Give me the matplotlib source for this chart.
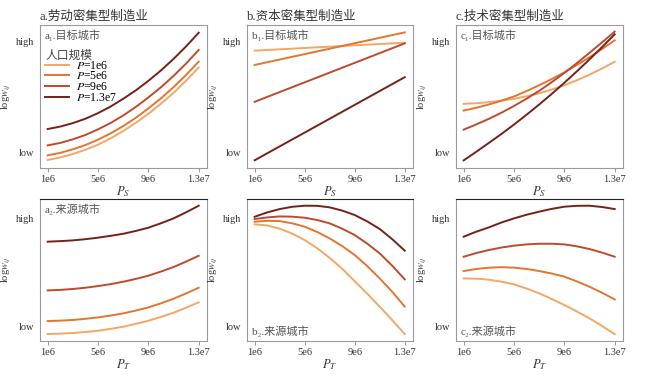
import matplotlib
matplotlib.use("Agg")
import matplotlib.pyplot as plt

plt.rcParams['font.family'] = ['Liberation Serif', 'Noto Sans CJK SC', 'DejaVu Sans']
plt.rcParams['mathtext.fontset'] = 'stix'

# ---- data ----
x13 = [1e6, 2e6, 3e6, 4e6, 5e6, 6e6, 7e6, 8e6, 9e6, 10e6, 11e6, 12e6, 13e6]
x2 = [1e6, 13e6]
pop_labels = ["1e6", "5e6", "9e6", "1.3e7"]
xtick_vals = [1e6, 5e6, 9e6, 13e6]
xtick_labels = ["1e6", "5e6", "9e6", "1.3e7"]

# a1: labour-intensive, target city (vs P_S)
a1_p1 = [-0.062, -0.040, -0.009, 0.029, 0.074, 0.131, 0.196, 0.269, 0.350, 0.440, 0.537, 0.646, 0.763]
a1_p5 = [-0.021, 0.001, 0.033, 0.071, 0.119, 0.175, 0.240, 0.314, 0.398, 0.488, 0.588, 0.697, 0.816]
a1_p9 = [0.068, 0.090, 0.122, 0.161, 0.211, 0.268, 0.335, 0.411, 0.496, 0.587, 0.688, 0.799, 0.920]
a1_p13 = [0.214, 0.236, 0.267, 0.306, 0.356, 0.415, 0.484, 0.559, 0.644, 0.737, 0.840, 0.952, 1.074]
# b1: capital-intensive, target city (straight lines)
b1_p1 = [0.914, 0.985]
b1_p5 = [0.786, 1.077]
b1_p9 = [0.457, 0.979]
b1_p13 = [-0.065, 0.677]
# c1: technology-intensive, target city
c1_p1 = [0.439, 0.444, 0.454, 0.467, 0.484, 0.507, 0.533, 0.567, 0.605, 0.650, 0.700, 0.755, 0.815]
c1_p5 = [0.379, 0.404, 0.433, 0.467, 0.505, 0.553, 0.605, 0.660, 0.720, 0.786, 0.855, 0.929, 1.006]
c1_p9 = [0.209, 0.255, 0.305, 0.360, 0.420, 0.485, 0.555, 0.633, 0.715, 0.803, 0.895, 0.988, 1.084]
c1_p13 = [-0.066, 0.011, 0.090, 0.170, 0.254, 0.342, 0.433, 0.528, 0.627, 0.730, 0.836, 0.946, 1.060]
# a2: labour-intensive, source city (vs P_T)
a2_p1 = [-0.068, -0.064, -0.058, -0.049, -0.037, -0.020, 0.0, 0.026, 0.055, 0.090, 0.129, 0.175, 0.225]
a2_p5 = [0.052, 0.056, 0.062, 0.073, 0.086, 0.103, 0.123, 0.149, 0.178, 0.216, 0.258, 0.307, 0.360]
a2_p9 = [0.335, 0.340, 0.348, 0.360, 0.375, 0.393, 0.415, 0.441, 0.471, 0.509, 0.551, 0.601, 0.655]
a2_p13 = [0.785, 0.790, 0.797, 0.808, 0.822, 0.839, 0.858, 0.884, 0.914, 0.955, 1.0, 1.056, 1.117]
# b2: capital-intensive, source city
b2_p1 = [0.945, 0.935, 0.905, 0.860, 0.800, 0.725, 0.635, 0.535, 0.420, 0.305, 0.185, 0.061, -0.068]
b2_p5 = [0.969, 0.978, 0.975, 0.955, 0.923, 0.875, 0.815, 0.745, 0.662, 0.560, 0.446, 0.322, 0.185]
b2_p9 = [0.994, 1.009, 1.018, 1.016, 1.006, 0.985, 0.954, 0.905, 0.846, 0.767, 0.677, 0.563, 0.437]
b2_p13 = [1.015, 1.055, 1.086, 1.107, 1.117, 1.116, 1.102, 1.072, 1.031, 0.972, 0.902, 0.808, 0.702]
# c2: technology-intensive, source city
c2_p1 = [0.446, 0.443, 0.434, 0.416, 0.391, 0.352, 0.308, 0.256, 0.200, 0.140, 0.077, 0.006, -0.068]
c2_p5 = [0.514, 0.533, 0.545, 0.549, 0.545, 0.533, 0.514, 0.491, 0.462, 0.418, 0.369, 0.313, 0.252]
c2_p9 = [0.646, 0.680, 0.708, 0.731, 0.748, 0.760, 0.766, 0.766, 0.760, 0.742, 0.717, 0.684, 0.646]
c2_p13 = [0.831, 0.877, 0.917, 0.962, 1.000, 1.034, 1.062, 1.088, 1.108, 1.116, 1.117, 1.105, 1.086]

colors = ['#F2A766', '#E4742F', '#BE4A2C', '#732218']

W, H = 650, 377
fig = plt.figure(figsize=(W / 100, H / 100), dpi=100)

def mk(l, r, t, b):
    return fig.add_axes([l / W, 1 - b / H, (r - l) / W, (b - t) / H])

cols = [(40, 207), (247, 413), (456, 623)]
top = (25, 168)
bot = (199, 341)

panels = [
    dict(pos=(cols[0], top), x=x13, ys=[a1_p1, a1_p5, a1_p9, a1_p13], lab="a₁.目标城市", lab_loc='top',
         title="a.劳动密集型制造业", xl="$P_S$", ylim=(-0.134, 1.143), legend=True),
    dict(pos=(cols[1], top), x=x2, ys=[b1_p1, b1_p5, b1_p9, b1_p13], lab="b₁.目标城市", lab_loc='top',
         title="b.资本密集型制造业", xl="$P_S$", ylim=(-0.134, 1.143)),
    dict(pos=(cols[2], top), x=x13, ys=[c1_p1, c1_p5, c1_p9, c1_p13], lab="c₁.目标城市", lab_loc='top',
         title="c.技术密集型制造业", xl="$P_S$", ylim=(-0.134, 1.143)),
    dict(pos=(cols[0], bot), x=x13, ys=[a2_p1, a2_p5, a2_p9, a2_p13], lab="a₂.来源城市", lab_loc='top',
         xl="$P_T$", ylim=(-0.132, 1.179), bottom=True),
    dict(pos=(cols[1], bot), x=x13, ys=[b2_p1, b2_p5, b2_p9, b2_p13], lab="b₂.来源城市", lab_loc='bottom',
         xl="$P_T$", ylim=(-0.132, 1.179), bottom=True),
    dict(pos=(cols[2], bot), x=x13, ys=[c2_p1, c2_p5, c2_p9, c2_p13], lab="c₂.来源城市", lab_loc='bottom',
         xl="$P_T$", ylim=(-0.132, 1.179), bottom=True),
]

for p in panels:
    (l, r), (t, b) = p['pos']
    ax = mk(l, r, t, b)
    for ys, c, pl in zip(p['ys'], colors, pop_labels):
        ax.plot(p['x'], ys, color=c, lw=1.4, label="$P$=" + pl)
    ax.set_xlim(0.39e6, 13.66e6)
    ax.set_ylim(*p['ylim'])
    ax.set_xticks(xtick_vals)
    ax.set_xticklabels(xtick_labels)
    ax.set_yticks([0, 1])
    ax.set_yticklabels(["low", "high"])
    ax.tick_params(axis='x', length=3, width=0.6, color='#888888', labelsize=7.5, pad=2, labelcolor='#333333')
    ax.tick_params(axis='y', length=0, labelsize=7.5, pad=4, labelcolor='#333333')
    for s in ax.spines.values():
        s.set_color('#9a9a9a')
        s.set_linewidth(0.8)
    if p.get('bottom'):
        ax.spines['top'].set_color('#222222')
    ax.set_xlabel(p['xl'], fontsize=9, labelpad=0, color='#333333')
    ax.set_ylabel("log$w_{ij}$", fontsize=7.5, labelpad=2, color='#333333')
    if p['lab_loc'] == 'top':
        ax.text(0.03, 0.97, p['lab'], transform=ax.transAxes, ha='left', va='top', fontsize=8, color='#555555')
    else:
        ax.text(0.03, 0.03, p['lab'], transform=ax.transAxes, ha='left', va='bottom', fontsize=8, color='#555555')
    if 'title' in p:
        ax.set_title(p['title'], loc='left', fontsize=9, pad=4, color='#333333')
    if p.get('legend'):
        leg = ax.legend(title="人口规模", loc='upper left', bbox_to_anchor=(0.03, 0.83), frameon=False,
                        fontsize=8.5, title_fontsize=8.5, handlelength=2.0, labelspacing=-0.12,
                        borderaxespad=0, borderpad=0, handletextpad=0.6)
        leg._legend_box.align = 'left'
        leg.get_title().set_color('#444444')

fig.savefig("out.png", dpi=100)
